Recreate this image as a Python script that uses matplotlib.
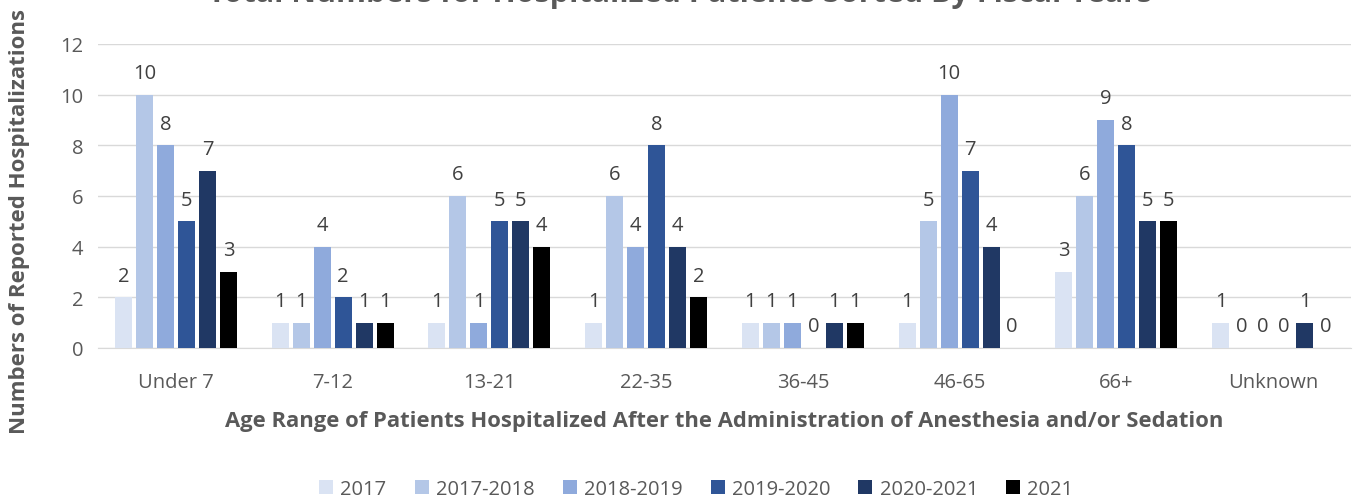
import numpy as np
import matplotlib.pyplot as plt

plt.rcParams["font.family"] = ["Open Sans", "DejaVu Sans"]

# ==================================
# data
# ==================================

age_groups = ["Under 7", "7-12", "13-21", "22-35", "36-45", "46-65", "66+", "Unknown"]

years = ["2017", "2017-2018", "2018-2019", "2019-2020", "2020-2021", "2021"]

v_2017 = [2, 1, 1, 1, 1, 1, 3, 1]
v_2017_2018 = [10, 1, 6, 6, 1, 5, 6, 0]
v_2018_2019 = [8, 4, 1, 4, 1, 10, 9, 0]
v_2019_2020 = [5, 2, 5, 8, 0, 7, 8, 0]
v_2020_2021 = [7, 1, 5, 4, 1, 4, 5, 1]
v_2021 = [3, 1, 4, 2, 1, 0, 5, 0]

series = [v_2017, v_2017_2018, v_2018_2019, v_2019_2020, v_2020_2021, v_2021]

colors = ["#dae3f3", "#b4c7e7", "#8faadc", "#2f5597", "#203864", "#000000"]

TXT = "#595959"

# ==================================
# plot
# ==================================

fig = plt.figure(figsize=(13.6, 5.02), dpi=100)
ax = fig.add_axes([0.0717, 0.3048, 0.922, 0.6056])

x = np.arange(len(age_groups))
step = 0.134
width = 0.108

for i, (vals, col, lab) in enumerate(zip(series, colors, years)):
    pos = x + (i - 2.5) * step
    ax.bar(pos, vals, width=width, color=col, label=lab, zorder=3)
    for px, v in zip(pos, vals):
        ax.annotate(
            str(v),
            (px, v),
            xytext=(0, 8.5),
            textcoords="offset points",
            ha="center",
            va="bottom",
            fontsize=14.5,
            color="#404040",
        )

ax.set_xlim(-0.5, len(age_groups) - 0.5)
ax.set_ylim(0, 12)
ax.set_yticks(range(0, 13, 2))
ax.set_xticks(x)
ax.set_xticklabels(age_groups)

ax.grid(axis="y", color="#d9d9d9", linewidth=1, zorder=0)
for s in ["top", "right", "left"]:
    ax.spines[s].set_visible(False)
ax.spines["bottom"].set_color("#d9d9d9")
ax.tick_params(axis="both", length=0, labelsize=14.5, colors=TXT)
ax.tick_params(axis="x", pad=17)
ax.tick_params(axis="y", pad=10)

ax.set_xlabel(
    "Age Range of Patients Hospitalized After the Administration of Anesthesia and/or Sedation",
    fontsize=15.8,
    fontweight="bold",
    color=TXT,
)
ax.xaxis.set_label_coords(0.5, -0.205)
ax.set_ylabel(
    "Numbers of Reported Hospitalizations",
    fontsize=16,
    fontweight="bold",
    color=TXT,
)
ax.yaxis.set_label_coords(-0.054, 0.42)

fig.text(
    0.5,
    0.996,
    "Total Numbers for Hospitalized Patients Sorted By Fiscal Years",
    ha="center",
    va="baseline",
    fontsize=22,
    fontweight="bold",
    color=TXT,
)

fig.legend(
    loc="center",
    bbox_to_anchor=(0.512, 0.024),
    ncol=6,
    frameon=False,
    fontsize=14.5,
    labelcolor=TXT,
    handlelength=0.7,
    handleheight=0.7,
    handletextpad=0.35,
    columnspacing=1.4,
)

plt.savefig("out.png", dpi=100)
